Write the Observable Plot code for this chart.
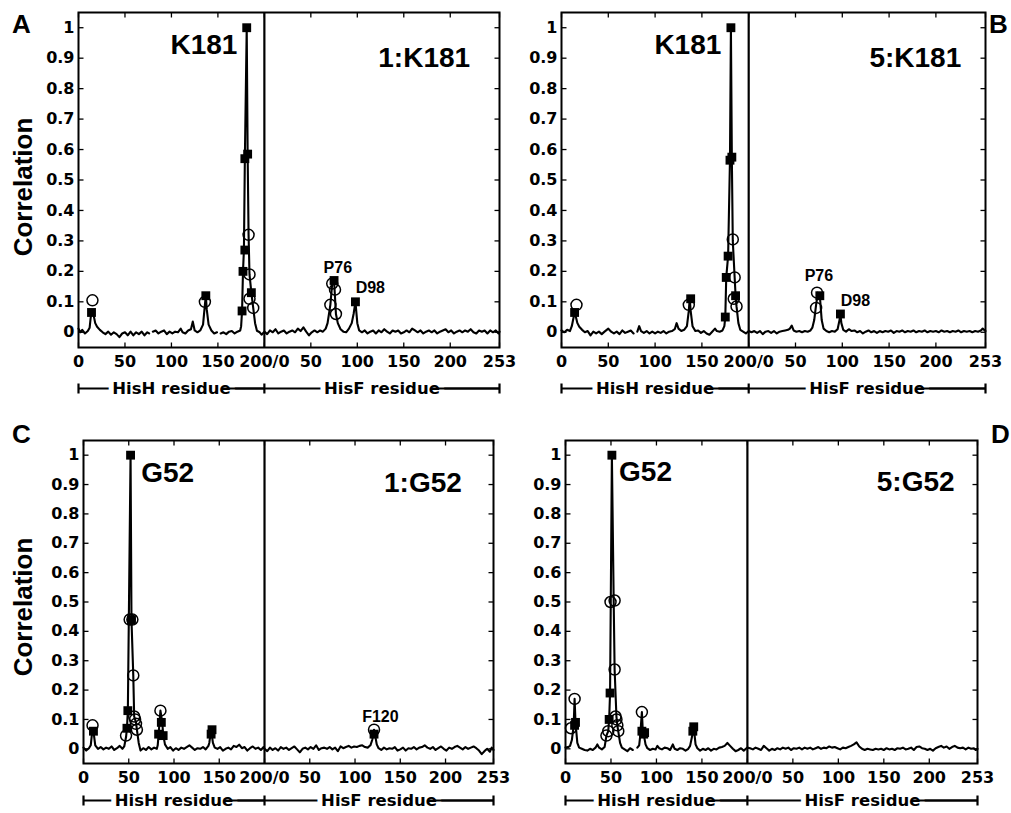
<!DOCTYPE html>
<html><head><meta charset="utf-8">
<script src="https://cdn.jsdelivr.net/npm/d3@7"></script>
<script src="https://cdn.jsdelivr.net/npm/@observablehq/plot@0.6"></script>
<style>
body{margin:0;background:#fff;}
#fig{position:relative;width:1011px;height:813px;overflow:hidden;background:#fff;}
.panel{position:absolute;}
.panel svg{overflow:visible;background:transparent;max-width:none;}
#overlay{position:absolute;left:0;top:0;pointer-events:none;}
</style></head><body><div id="fig"></div>
<script>
// ---------- axis content ----------
const xTickValues = [0, 50, 100, 150, 200, 250, 300, 350, 400, 453];
const xTickLabels = ["0", "50", "100", "150", "200/0", "50", "100", "150", "200", "253"];
const yTickValues = [0, 0.1, 0.2, 0.3, 0.4, 0.5, 0.6, 0.7, 0.8, 0.9, 1];
const yTickLabels = ["0", "0.1", "0.2", "0.3", "0.4", "0.5", "0.6", "0.7", "0.8", "0.9", "1"];
const segmentNames = ["HisH residue", "HisF residue"];
const segmentBounds = [0, 200, 453];   // HisH 0-200, HisF 0-253 (shifted by 200)
const panelLetters = ["A", "B", "C", "D"];
const yTitle = "Correlation";

// ---------- panel A: 1:K181 ----------
const curveA = [[0,0.012],[2,0.0],[4,0.008],[7,-0.004],[10,0.004],[12,0.015],[13,0.045],[14,0.068],[16,0.06],[18,0.03],[20,0.018],[23,0.008],[26,0.0],[29,-0.006],[32,0.002],[35,-0.008],[38,0.0],[41,-0.006],[44,-0.016],[47,-0.004],[50,0.0],[53,-0.01],[56,0.002],[59,-0.01],[62,0.0],[65,-0.006],[68,0.002],[71,-0.01],[74,0.0],[76,-0.004],[78,NaN],[80,0.002],[83,0.006],[86,-0.004],[89,0.002],[92,0.006],[95,-0.006],[98,0.002],[101,-0.004],[104,0.002],[107,0.0],[110,0.012],[112,0.0],[115,-0.004],[118,0.006],[121,0.01],[123,0.035],[125,0.006],[128,0.0],[131,0.006],[134,0.025],[136,0.09],[137,0.12],[138,0.075],[140,0.025],[143,0.006],[146,-0.004],[149,0.0],[151,NaN],[153,-0.004],[156,0.0],[159,-0.006],[162,0.002],[165,0.004],[168,-0.004],[171,0.002],[174,0.006],[175,0.02],[176,0.07],[177,0.2],[178,0.27],[179,0.57],[181,1.0],[182,0.585],[183,0.32],[184,0.19],[186,0.13],[188,0.08],[190,0.03],[192,0.005],[195,0.0],[197,-0.008],[200,0.002],
  [203,-0.006],[206,0.006],[209,0.0],[212,0.01],[215,-0.004],[218,0.002],[221,0.006],[224,-0.004],[227,0.002],[230,0.006],[233,0.0],[236,0.012],[239,0.004],[242,0.016],[245,0.002],[248,-0.01],[251,0.0],[254,0.006],[257,0.0],[260,0.006],[263,0.002],[266,0.012],[268,0.03],[271,0.09],[273,0.16],[275,0.17],[277,0.06],[279,0.03],[282,0.01],[285,0.002],[288,0.0],[291,0.012],[294,0.03],[296,0.06],[298,0.1],[300,0.03],[302,0.006],[305,0.0],[308,0.006],[311,-0.004],[314,0.002],[317,0.006],[320,-0.004],[323,0.006],[326,0.0],[329,0.01],[332,0.002],[335,-0.004],[338,0.006],[341,0.002],[344,0.006],[347,-0.004],[350,0.0],[353,0.006],[356,0.0],[359,0.012],[362,0.006],[365,0.0],[368,0.006],[371,-0.004],[374,0.002],[377,0.006],[380,0.0],[383,0.006],[386,-0.004],[389,0.002],[392,0.006],[395,0.01],[398,0.0],[401,0.006],[404,-0.004],[407,0.002],[410,0.006],[413,0.0],[416,0.006],[419,0.002],[422,0.01],[425,0.0],[428,-0.004],[431,0.006],[434,0.002],[437,0.006],[440,-0.004],[443,0.006],[446,0.0],[449,0.006],[452,-0.004],[453,0.002]];
const squaresA = [[14,0.065],[137,0.12],[176,0.07],[177,0.2],[179,0.27],[179,0.57],[181,1.0],[182,0.585],[186,0.13],[275,0.17],[298,0.1]];
const circlesA = [[15,0.105],[136,0.1],[183,0.32],[184,0.19],[184,0.11],[188,0.08],[273,0.16],[276,0.14],[271,0.09],[277,0.06]];
const labelsA = ["K181", "1:K181", "P76", "D98"];

// ---------- panel B: 5:K181 ----------
const curveB = [[0,0.006],[3,0.0],[6,0.008],[9,0.004],[11,0.02],[13,0.05],[14,0.065],[15,0.055],[17,0.03],[19,0.018],[22,0.008],[25,0.0],[28,0.004],[31,-0.01],[34,0.002],[37,-0.004],[40,0.002],[43,-0.006],[46,0.002],[50,0.012],[53,0.002],[56,-0.004],[59,0.002],[62,-0.006],[65,0.006],[68,-0.002],[71,0.002],[74,0.006],[77,-0.004],[79,NaN],[81,0.002],[83,0.02],[85,0.004],[88,-0.002],[91,0.004],[94,-0.004],[97,0.002],[100,-0.004],[103,0.002],[106,-0.002],[109,0.004],[112,-0.004],[115,0.002],[118,0.004],[121,0.01],[123,0.03],[125,0.012],[128,0.004],[131,0.008],[134,0.02],[136,0.07],[137,0.11],[138,0.07],[140,0.02],[143,0.004],[146,0.006],[149,-0.002],[152,0.004],[155,-0.004],[158,-0.008],[161,0.002],[164,0.012],[166,0.004],[169,0.002],[172,0.006],[174,0.02],[175,0.05],[176,0.18],[178,0.25],[180,0.57],[181,1.0],[182,0.57],[183,0.3],[185,0.18],[186,0.12],[187,0.085],[189,0.03],[191,0.008],[194,0.002],[197,-0.004],[200,0.004],
  [203,0.0],[206,0.004],[209,-0.002],[212,0.004],[215,-0.006],[218,0.002],[221,0.004],[224,-0.002],[227,0.004],[230,-0.004],[233,0.002],[236,0.004],[239,0.006],[242,0.008],[244,0.012],[246,0.022],[248,0.006],[251,0.002],[254,0.004],[257,0.0],[260,0.004],[263,0.002],[266,0.006],[268,0.015],[270,0.04],[272,0.09],[274,0.13],[276,0.12],[278,0.04],[280,0.012],[283,0.004],[286,0.0],[289,0.004],[292,0.002],[295,0.01],[297,0.04],[298,0.06],[299,0.03],[301,0.008],[304,0.002],[307,0.01],[310,0.004],[313,0.006],[316,0.0],[319,0.004],[322,-0.004],[325,0.002],[328,0.006],[331,0.0],[334,0.004],[337,-0.002],[340,0.004],[343,0.0],[346,0.004],[349,0.002],[352,0.006],[355,-0.002],[358,0.004],[361,0.002],[364,0.006],[367,0.0],[370,0.004],[373,0.002],[376,0.006],[379,0.0],[382,0.004],[385,0.002],[388,0.006],[391,0.0],[394,0.004],[397,0.002],[400,0.004],[403,0.0],[406,0.006],[409,0.002],[412,0.004],[415,0.0],[418,0.004],[421,0.002],[424,0.006],[427,0.0],[430,0.004],[433,0.002],[436,0.004],[439,0.0],[442,0.004],[445,0.002],[448,0.006],[450,0.012],[453,0.004]];
const squaresB = [[14,0.065],[138,0.11],[175,0.05],[176,0.18],[178,0.25],[180,0.565],[181,1.0],[182,0.575],[186,0.12],[276,0.12],[298,0.06]];
const circlesB = [[16,0.09],[136,0.09],[183,0.305],[185,0.18],[184,0.11],[187,0.085],[273,0.13],[272,0.08]];
const labelsB = ["K181", "5:K181", "P76", "D98"];

// ---------- panel C: 1:G52 ----------
const curveC = [[0,0.004],[3,-0.006],[6,0.002],[8,0.012],[10,0.07],[11,0.06],[13,0.012],[16,0.0],[19,0.006],[22,-0.002],[25,0.004],[28,0.0],[31,0.008],[34,-0.004],[37,0.002],[40,0.01],[43,0.0],[45,0.008],[47,0.04],[48,0.07],[49,0.13],[52,1.0],[53,0.44],[55,0.25],[56,0.11],[58,0.09],[59,0.065],[61,0.02],[63,-0.006],[66,0.002],[69,-0.004],[72,0.006],[75,-0.002],[78,0.004],[81,0.0],[82,0.012],[83,0.05],[85,0.13],[87,0.09],[88,0.05],[90,0.015],[93,0.0],[96,0.006],[99,-0.006],[102,0.002],[105,-0.004],[108,0.004],[111,0.0],[114,0.006],[117,0.012],[120,0.004],[123,-0.004],[126,0.002],[129,0.0],[132,0.006],[135,-0.002],[138,0.01],[139,0.02],[141,0.065],[143,0.02],[145,0.004],[148,0.0],[151,0.006],[154,-0.006],[157,0.0],[160,0.004],[163,-0.002],[166,0.01],[169,0.006],[172,0.014],[175,0.002],[178,0.006],[181,-0.006],[184,0.002],[187,0.008],[190,0.0],[193,0.004],[196,-0.004],[199,0.006],[200,0.0],
  [203,-0.008],[206,0.004],[209,-0.004],[212,0.002],[215,-0.006],[218,0.006],[221,0.0],[224,0.004],[227,-0.004],[230,0.002],[233,0.008],[236,-0.002],[239,-0.012],[242,0.0],[245,0.004],[248,-0.002],[251,0.006],[254,0.0],[257,0.012],[260,-0.004],[263,0.002],[266,0.004],[269,0.0],[272,0.006],[275,-0.002],[278,0.004],[281,-0.008],[284,0.008],[287,0.002],[290,0.006],[293,0.01],[296,0.004],[299,0.008],[302,0.006],[305,0.01],[308,0.012],[311,0.006],[314,0.004],[317,0.012],[319,0.03],[321,0.065],[322,0.05],[324,0.015],[326,0.002],[329,-0.004],[332,0.004],[335,-0.002],[338,0.002],[341,0.0],[344,0.006],[347,-0.006],[350,-0.002],[353,0.004],[356,-0.006],[359,0.002],[362,0.0],[365,0.006],[368,-0.002],[371,0.004],[374,0.006],[377,0.012],[380,0.004],[383,0.0],[386,0.006],[389,-0.004],[392,0.002],[395,0.008],[398,0.0],[401,-0.006],[404,0.004],[407,0.0],[410,0.006],[413,0.01],[416,0.004],[419,-0.002],[422,0.006],[425,0.0],[428,0.004],[431,0.008],[434,0.002],[437,-0.006],[440,-0.018],[443,-0.008],[446,0.0],[449,-0.01],[451,0.004],[453,-0.004]];
const squaresC = [[11,0.06],[48,0.07],[49,0.13],[52,1.0],[53,0.44],[86,0.09],[83,0.05],[88,0.045],[141,0.05],[142,0.065],[321,0.05]];
const circlesC = [[10,0.08],[47,0.045],[51,0.44],[54,0.44],[55,0.25],[56,0.11],[57,0.10],[58,0.085],[59,0.065],[85,0.13],[321,0.065]];
const labelsC = ["G52", "1:G52", "F120"];

// ---------- panel D: 5:G52 ----------
const curveD = [[0,0.004],[3,0.006],[5,0.01],[7,0.03],[9,0.08],[10,0.17],[11,0.09],[13,0.02],[15,0.004],[18,0.0],[21,-0.004],[24,-0.006],[27,0.0],[30,-0.004],[33,0.004],[35,0.015],[37,0.004],[40,-0.002],[43,0.006],[45,0.045],[47,0.06],[48,0.1],[49,0.19],[51,1.0],[53,0.5],[54,0.27],[56,0.11],[57,0.08],[58,0.06],[60,0.02],[62,0.004],[65,-0.002],[68,-0.008],[71,0.002],[74,-0.004],[76,NaN],[79,0.004],[81,0.012],[82,0.04],[84,0.125],[85,0.06],[86,0.05],[88,0.015],[90,0.002],[93,-0.004],[96,0.0],[99,-0.002],[101,0.01],[103,0.002],[106,-0.002],[109,0.004],[112,0.002],[115,-0.004],[118,0.015],[120,0.0],[123,-0.004],[126,0.002],[129,0.0],[132,-0.006],[135,0.0],[137,0.01],[139,0.04],[141,0.075],[143,0.015],[145,0.002],[148,-0.006],[151,0.0],[154,-0.004],[157,0.002],[160,-0.006],[163,0.0],[166,-0.002],[169,0.004],[172,0.006],[175,0.01],[178,0.02],[181,0.01],[184,0.0],[187,-0.008],[190,-0.004],[193,0.002],[196,-0.006],[199,0.002],[200,0.004],
  [203,0.002],[206,-0.002],[209,0.004],[212,0.0],[215,-0.004],[218,0.01],[221,0.002],[224,-0.006],[227,0.0],[230,-0.004],[233,0.002],[236,-0.002],[239,0.004],[242,0.0],[245,0.004],[248,-0.004],[251,0.002],[254,0.0],[257,0.004],[260,-0.002],[263,0.004],[266,0.0],[269,0.004],[272,-0.002],[275,0.002],[278,0.006],[281,0.0],[284,0.004],[287,0.002],[290,0.008],[293,0.004],[296,0.006],[299,0.002],[302,-0.002],[305,0.004],[308,0.002],[311,0.006],[314,0.01],[317,0.015],[320,0.022],[323,0.008],[326,0.0],[329,-0.004],[332,0.0],[335,-0.002],[338,-0.004],[341,0.0],[344,-0.002],[347,0.0],[350,-0.004],[353,0.002],[356,-0.002],[359,0.0],[362,-0.004],[365,0.002],[368,0.0],[371,0.004],[374,-0.002],[377,0.0],[380,0.004],[383,-0.004],[386,0.006],[389,0.008],[392,0.002],[395,0.0],[398,-0.004],[401,0.0],[404,-0.006],[407,0.002],[410,0.006],[413,0.01],[416,0.004],[419,0.008],[422,0.0],[425,0.006],[428,0.01],[431,0.004],[434,0.002],[437,0.004],[440,-0.002],[443,0.004],[446,0.0],[449,0.002],[451,-0.004],[453,0.0]];
const squaresD = [[11,0.09],[10,0.08],[48,0.1],[49,0.19],[51,1.0],[84,0.06],[86,0.05],[87,0.055],[140,0.06],[141,0.075]];
const circlesD = [[6,0.07],[10,0.17],[45,0.045],[47,0.06],[49.5,0.5],[54,0.505],[54,0.27],[55,0.11],[56,0.10],[57,0.08],[58,0.06],[84,0.125]];
const labelsD = ["G52", "5:G52"];

// ---------- layout (positions / sizes / styles) ----------
const BIG = {fontFamily: "Liberation Sans", fontWeight: "bold", fontSize: 28};
const SMALL = {fontFamily: "Liberation Sans", fontWeight: "bold", fontSize: 16};
const panels = [
  {left: 0, top: 0, width: 505, height: 410, margin: [12, 6, 63, 78], bracketDy: 41,
   curve: curveA, squares: squaresA, circles: circlesA,
   labels: [[labelsA[0], 135, 0.943, BIG], [labelsA[1], 372, 0.9, BIG], [labelsA[2], 279, 0.21, SMALL], [labelsA[3], 314, 0.147, SMALL]]},
  {left: 505, top: 0, width: 506, height: 410, margin: [12, 26, 63, 56], bracketDy: 41,
   curve: curveB, squares: squaresB, circles: circlesB,
   labels: [[labelsB[0], 135, 0.943, BIG], [labelsB[1], 378, 0.9, BIG], [labelsB[2], 275, 0.186, SMALL], [labelsB[3], 314, 0.104, SMALL]]},
  {left: 0, top: 410, width: 505, height: 403, margin: [30, 12, 50, 83], bracketDy: 37,
   curve: curveC, squares: squaresC, circles: circlesC,
   labels: [[labelsC[0], 93, 0.94, BIG], [labelsC[1], 375, 0.906, BIG], [labelsC[2], 328, 0.108, SMALL]]},
  {left: 505, top: 410, width: 506, height: 403, margin: [30, 34, 50, 60], bracketDy: 37,
   curve: curveD, squares: squaresD, circles: circlesD,
   labels: [[labelsD[0], 88, 0.943, BIG], [labelsD[1], 385, 0.91, BIG]]}
];

const X0 = segmentBounds[0], X1 = segmentBounds[2], Y0 = -0.05, Y1 = 1.05;
const xFmt = new Map(xTickValues.map((v, i) => [v, xTickLabels[i]]));
const yFmt = new Map(yTickValues.map((v, i) => [v, yTickLabels[i]]));
const TICKSTYLE = {fontFamily: "DejaVu Sans", fontWeight: "bold", fontSize: 16, fill: "black"};
const BRACKETFONT = 16.5;

const ctx = document.createElement("canvas").getContext("2d");
ctx.font = `bold ${BRACKETFONT}px 'DejaVu Sans'`;

function makePanel(cfg) {
  const [mt, mr, mb, ml] = cfg.margin;
  const innerW = cfg.width - ml - mr, innerH = cfg.height - mt - mb;
  const ux = (X1 - X0) / innerW, uy = (Y1 - Y0) / innerH; // data units per pixel
  const tick = 5;
  const segs = segmentNames.map((name, i) => {
    const a = segmentBounds[i], b = segmentBounds[i + 1];
    const c = (a + b) / 2;
    const w = ctx.measureText(name).width;
    return {a, b, c, name, end: c + (w / 2 - 7) * ux};
  });
  const dy = cfg.bracketDy;
  const marks = [
    // tick labels
    Plot.text(xTickValues, {x: d => d, y: Y0, text: d => xFmt.get(d), lineAnchor: "top", dy: 8, ...TICKSTYLE}),
    Plot.text(yTickValues, {x: X0, y: d => d, text: d => yFmt.get(d), textAnchor: "end", dx: -4, ...TICKSTYLE}),
    Plot.line(cfg.curve, {x: d => d[0], y: d => d[1], stroke: "black", strokeWidth: 2.1, strokeLinejoin: "round"}),
    Plot.ruleX([segmentBounds[1]], {stroke: "black", strokeWidth: 2.2}),
    Plot.frame({stroke: "black", strokeWidth: 2}),
    // inward ticks
    Plot.link(xTickValues, {x1: d => d, x2: d => d, y1: Y0, y2: Y0 + tick * uy, stroke: "black", strokeWidth: 1.3}),
    Plot.link(xTickValues, {x1: d => d, x2: d => d, y1: Y1, y2: Y1 - tick * uy, stroke: "black", strokeWidth: 1.3}),
    Plot.link(yTickValues, {y1: d => d, y2: d => d, x1: X0, x2: X0 + tick * ux, stroke: "black", strokeWidth: 1.3}),
    Plot.link(yTickValues, {y1: d => d, y2: d => d, x1: X1, x2: X1 - tick * ux, stroke: "black", strokeWidth: 1.3}),
    // markers
    Plot.dot(cfg.squares, {x: d => d[0], y: d => d[1], symbol: "square", r: 5, fill: "black", stroke: null}),
    Plot.dot(cfg.circles, {x: d => d[0], y: d => d[1], symbol: "circle", r: 5.5, fill: "none", stroke: "black", strokeWidth: 1.5}),
    // labels
    ...cfg.labels.map(([t, x, y, f]) => Plot.text([t], {x: x, y: y, text: d => d, fill: "black", ...f})),
    // residue brackets below the axis
    ...segs.map(s => Plot.ruleY([Y0], {x1: s.a, x2: s.b, dy, stroke: "black", strokeWidth: 2.2})),
    Plot.link(segmentBounds, {x1: d => d, x2: d => d, y1: Y0 - 5 * uy, y2: Y0 + 5 * uy, dy, stroke: "black", strokeWidth: 2.2}),
    Plot.text(segs, {x: d => d.c, y: Y0, text: d => d.name, dy, fill: "black", stroke: "white", strokeWidth: 10, paintOrder: "stroke",
      fontFamily: "DejaVu Sans", fontWeight: "bold", fontSize: BRACKETFONT}),
    ...segs.map(s => Plot.ruleY([Y0], {x1: s.end, x2: s.b, dy, stroke: "black", strokeWidth: 2.2}))
  ];
  const svg = Plot.plot({
    width: cfg.width, height: cfg.height,
    marginTop: mt, marginRight: mr, marginBottom: mb, marginLeft: ml,
    style: {fontFamily: "DejaVu Sans", fontWeight: "bold", color: "black", background: "transparent", overflow: "visible"},
    x: {domain: [X0, X1], axis: null},
    y: {domain: [Y0, Y1], axis: null},
    marks
  });
  const div = document.createElement("div");
  div.className = "panel";
  div.style.left = cfg.left + "px";
  div.style.top = cfg.top + "px";
  div.appendChild(svg);
  return div;
}

const fig = document.getElementById("fig");
panels.forEach(p => fig.appendChild(makePanel(p)));

// panel letters and y titles
const ns = "http://www.w3.org/2000/svg";
const ov = document.createElementNS(ns, "svg");
ov.setAttribute("id", "overlay");
ov.setAttribute("width", 1011);
ov.setAttribute("height", 813);
const letterPos = [[12, 33], [989, 33], [12, 443], [991, 443]];
panelLetters.forEach((L, i) => {
  const t = document.createElementNS(ns, "text");
  t.setAttribute("x", letterPos[i][0]);
  t.setAttribute("y", letterPos[i][1]);
  t.setAttribute("font-family", "Liberation Sans");
  t.setAttribute("font-weight", "bold");
  t.setAttribute("font-size", 26);
  t.textContent = L;
  ov.appendChild(t);
});
[[32, 187], [32, 607]].forEach(([x, y]) => {
  const t = document.createElementNS(ns, "text");
  t.setAttribute("transform", `translate(${x},${y}) rotate(-90)`);
  t.setAttribute("text-anchor", "middle");
  t.setAttribute("font-family", "Liberation Sans");
  t.setAttribute("font-weight", "bold");
  t.setAttribute("font-size", 26);
  t.textContent = yTitle;
  ov.appendChild(t);
});
fig.appendChild(ov);
</script></body></html>
